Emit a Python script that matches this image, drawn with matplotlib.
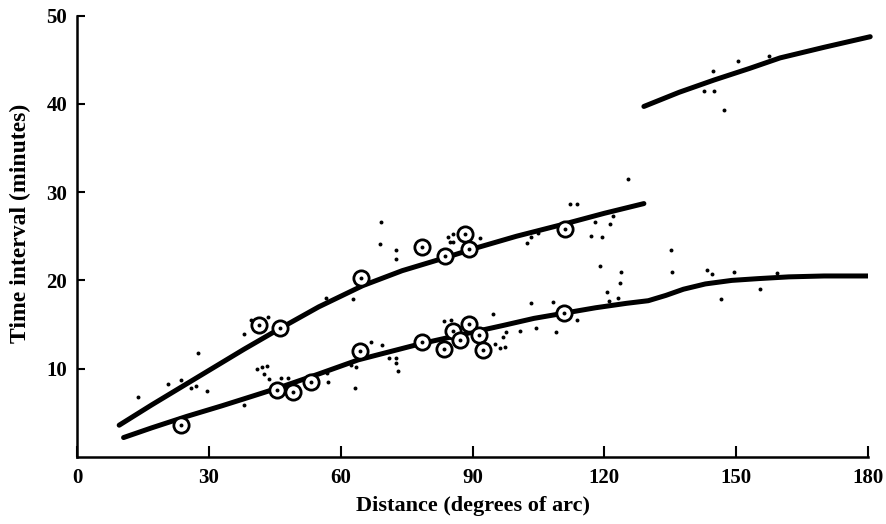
import numpy as np
import matplotlib
matplotlib.use('Agg')
import matplotlib.pyplot as plt

# travel-time curves (degrees, minutes)
p_deg = [9.6, 17, 24, 30, 38, 46, 55, 65, 74, 84, 91, 100, 111, 120, 129]
p_min = [3.6, 5.9, 8.0, 9.8, 12.2, 14.5, 17.0, 19.4, 21.1, 22.6, 23.7, 25.0, 26.4, 27.6, 28.7]

s_deg = [10.6, 17, 25, 33, 40, 46, 55, 64, 71, 78, 87, 97, 104, 111, 118, 125,
         130, 134, 138, 143, 149, 155, 162, 170, 180]
s_min = [2.2, 3.3, 4.6, 5.8, 6.9, 7.85, 9.4, 11.0, 11.9, 12.8, 13.8, 14.9, 15.7,
         16.3, 16.9, 17.4, 17.7, 18.3, 19.0, 19.6, 20.0, 20.2, 20.4, 20.5, 20.5]

pp_deg = [129, 137, 145, 153, 160, 170, 180.5]
pp_min = [39.7, 41.3, 42.7, 44.0, 45.2, 46.4, 47.6]

# circled observations
circ_deg = [41.5, 46.1, 64.7, 78.4, 83.8, 88.2, 89.1, 111.0,
            23.7, 45.6, 49.1, 53.3, 64.5, 78.4, 83.5, 85.6, 87.2, 89.1, 91.4, 92.4, 110.9]
circ_min = [14.9, 14.6, 20.3, 23.8, 22.8, 25.2, 23.5, 25.8,
            3.6, 7.6, 7.4, 8.45, 12.0, 13.0, 12.2, 14.3, 13.3, 15.1, 13.8, 12.1, 16.3]

# single readings (small dots)
dot_deg = [69.1, 68.9, 72.7, 72.7, 84.4, 85.6, 84.8, 85.6, 91.6, 56.7, 62.8, 43.4,
           39.6, 40.0, 38.0, 27.5, 20.6, 23.7, 26.0, 27.1, 29.6, 38.0, 41.0, 42.1,
           43.3, 42.5, 43.8, 46.5, 48.0, 56.9, 57.1, 63.2, 62.4, 63.6, 66.9, 69.3,
           71.1, 72.7, 72.7, 73.0, 83.5, 85.1, 94.6, 95.2, 96.2, 112.1, 113.8, 117.8,
           121.2, 122.0, 116.9, 119.5, 103.3, 104.8, 102.5, 135.1, 135.3, 119.1, 123.7,
           123.5, 120.7, 121.0, 123.0, 103.4, 108.3, 100.9, 104.5, 108.9, 97.0, 97.7,
           97.5, 113.7, 144.8, 150.5, 157.5, 142.7, 144.9, 147.2, 125.3, 143.3, 144.4,
           149.6, 159.4, 155.4, 146.5, 13.8]
dot_min = [26.6, 24.1, 23.4, 22.4, 24.9, 25.2, 24.4, 24.3, 24.8, 18.0, 17.9, 15.9,
           15.5, 14.9, 13.9, 11.8, 8.3, 8.7, 7.8, 8.0, 7.5, 5.9, 9.95, 10.2,
           10.3, 9.35, 8.8, 8.9, 9.0, 9.5, 8.5, 7.85, 10.4, 10.2, 13.0, 12.7,
           11.2, 11.2, 10.6, 9.7, 15.4, 15.5, 16.2, 12.8, 12.3, 28.6, 28.6, 26.6,
           26.4, 27.3, 25.0, 24.9, 24.9, 25.4, 24.2, 23.4, 20.9, 21.6, 20.9,
           19.7, 18.7, 17.7, 18.0, 17.4, 17.5, 14.3, 14.6, 14.1, 13.6, 14.1,
           12.4, 15.5, 43.7, 44.8, 45.4, 41.4, 41.5, 39.3, 31.5, 21.2, 20.7,
           20.9, 20.8, 19.0, 17.9, 6.8]

xticks = [0, 30, 60, 90, 120, 150, 180]
yticks = [10, 20, 30, 40, 50]

plt.rcParams['font.family'] = ['Liberation Serif', 'DejaVu Serif']
plt.rcParams['font.weight'] = 'bold'
plt.rcParams['axes.labelweight'] = 'bold'

fig = plt.figure(figsize=(8.86, 5.24), dpi=100)
ax = fig.add_axes([0.0869, 0.1279, 0.8928, 0.8425])

lw = 3.6
ax.plot(p_deg, p_min, color='black', lw=lw, solid_capstyle='round',
        solid_joinstyle='round', zorder=3)
ax.plot(s_deg, s_min, color='black', lw=lw, solid_capstyle='round',
        solid_joinstyle='round', zorder=3)
ax.plot(pp_deg, pp_min, color='black', lw=lw, solid_capstyle='round',
        solid_joinstyle='round', zorder=3, clip_on=False)

ax.scatter(dot_deg, dot_min, s=8, color='black', zorder=4, linewidths=0)
ax.plot(circ_deg, circ_min, 'o', ms=11, mfc='white', mec='black', mew=2, zorder=5)
ax.scatter(circ_deg, circ_min, s=8, color='black', zorder=6, linewidths=0)

ax.set_xlim(0, 180)
ax.set_ylim(0, 50)
ax.set_xticks(xticks)
ax.set_yticks(yticks)
ax.tick_params(axis='x', direction='in', length=8, width=1.5, pad=8, labelsize=15)
ax.tick_params(axis='y', direction='in', length=6, width=1.5, pad=7, labelsize=15)
for s in ['top', 'right']:
    ax.spines[s].set_visible(False)
for s in ['left', 'bottom']:
    ax.spines[s].set_linewidth(1.8)

ax.set_xlabel('Distance (degrees of arc)', fontsize=16, labelpad=6)
ax.set_ylabel('Time interval (minutes)', fontsize=17)
ax.yaxis.set_label_coords(-0.058, 0.53)

fig.savefig('out.png', dpi=100)
